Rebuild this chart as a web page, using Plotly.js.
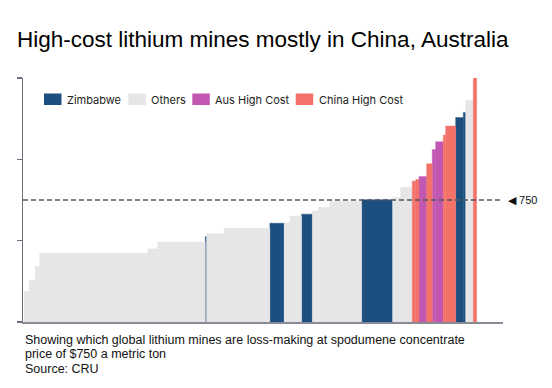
<!DOCTYPE html>
<html>
<head>
<meta charset="utf-8">
<script src="https://cdn.plot.ly/plotly-3.0.1.min.js"></script>
<style>html,body{margin:0;padding:0;background:#fff;}#chart{width:552px;height:388px;}</style>
</head>
<body>
<div id="chart"></div>
<script>
// Mine category, capacity width and cost (US$/t) in supply-curve order
const mineGroup = ['Others','Others','Others','Others','Others','Others','Zimbabwe','Others','Others','Zimbabwe',
  'Others','Others','Zimbabwe','Others','Others','Others','Zimbabwe','Others','Others','China High Cost',
  'China High Cost','Aus High Cost','China High Cost','Aus High Cost','Aus High Cost','China High Cost','China High Cost','Zimbabwe','Zimbabwe','Others',
  'China High Cost'];
const mineWidth = [5, 6, 4.5, 108, 10, 47.5, 1.3, 17.7, 45.5, 14.3,
  5.7, 11.7, 10.8, 5.8, 11.7, 31.7, 31, 8, 11.6, 3.4,
  3.3, 7.7, 5.6, 3.4, 7.6, 2.4, 10, 7.6, 2.4, 7.6,
  3.4];
const mineCost = [188, 254, 343, 423, 450, 492, 525, 544, 578, 607,
  610, 652, 663, 684, 705, 743, 752, 767, 829, 866,
  876, 895, 973, 1060, 1108, 1149, 1205, 1257, 1288, 1362,
  1560];
const groups = ['Zimbabwe', 'Others', 'Aus High Cost', 'China High Cost'];
const groupColors = ['#1c4f7f', '#e6e6e6', '#c157b0', '#f2726a'];
const priceLine = 750;
const yTicks = [0, 500, 1000, 1500];
const captionLines = ['Showing which global lithium mines are loss-making at spodumene concentrate',
  'price of $750 a metric ton', 'Source: CRU'];

// layout helpers (pixel -> paper) for the plot area
const L = 23, T = 78, PW = 480, PH = 244;
const px = v => (v - L) / PW;
const py = v => (T + PH - v) / PH;

const centers = [];
let acc = 0;
for (let i = 0; i < mineWidth.length; i++) { centers.push(acc + mineWidth[i] / 2); acc += mineWidth[i]; }

const traces = groups.map((g, gi) => {
  const xs = [], ys = [], ws = [];
  mineGroup.forEach((c, i) => { if (c === g) { xs.push(centers[i]); ys.push(mineCost[i]); ws.push(mineWidth[i]); } });
  return { type: 'bar', name: g, x: xs, y: ys, width: ws, showlegend: false,
    marker: { color: groupColors[gi], line: { width: 0.4, color: groupColors[gi] } }, hoverinfo: 'none' };
});

const annotations = captionLines.map((t, i) => ({
  text: t, xref: 'paper', yref: 'paper', x: -0.001, y: py(340 + i * 14.3),
  xanchor: 'left', yanchor: 'middle', showarrow: false,
  font: { family: 'Liberation Sans, Arial, sans-serif', size: 12.5, color: '#111' }
}));
annotations.push({
  text: '◀ ' + priceLine, xref: 'paper', yref: 'y', x: 1.006, y: priceLine, xanchor: 'left', yanchor: 'middle',
  showarrow: false, font: { family: 'Liberation Sans, Arial, sans-serif', size: 11, color: '#111' }
});

// legend (swatch + label) laid out as in the original graphic
const legendSwatchX = [44, 128.3, 192.3, 295.7];
const legendTextX = [65, 149, 213.3, 316.7];
const shapes = [{ type: 'line', xref: 'paper', x0: 0, x1: 1, yref: 'y', y0: priceLine, y1: priceLine,
  line: { color: '#555560', width: 1.5, dash: '5px,3px' }, layer: 'above' }];
groups.forEach((g, gi) => {
  shapes.push({ type: 'rect', xref: 'paper', yref: 'paper', x0: px(legendSwatchX[gi]), x1: px(legendSwatchX[gi] + 17.5),
    y0: py(105), y1: py(93.5), fillcolor: groupColors[gi], line: { width: 0 }, layer: 'above' });
  annotations.push({ text: g, xref: 'paper', yref: 'paper', x: px(legendTextX[gi]), y: py(99.5),
    xanchor: 'left', yanchor: 'middle', showarrow: false,
    font: { family: 'Inter, Open Sans, sans-serif', size: 11, color: '#222' } });
});

const layout = {
  width: 552, height: 388,
  margin: { l: L, r: 552 - L - PW, t: T, b: 388 - T - PH, pad: 0 },
  paper_bgcolor: '#fff', plot_bgcolor: '#fff',
  barmode: 'overlay',
  showlegend: false,
  title: { text: 'High-cost lithium mines mostly in China, Australia', xref: 'container', yref: 'container',
    x: 17 / 552, xanchor: 'left', y: 1 - 39 / 388, yanchor: 'middle',
    font: { family: 'Liberation Sans, Arial, sans-serif', size: 22.5, color: '#000' } },
  xaxis: { range: [-1.2, 478.5], showline: true, linecolor: '#8a8a96', linewidth: 2, showticklabels: false,
    ticks: '', showgrid: false, zeroline: false, fixedrange: true },
  yaxis: { range: [0, 1500], tickvals: yTicks, showticklabels: false, ticks: 'outside', ticklen: 5, tickwidth: 1.2,
    tickcolor: '#6e6e7c', showline: true, linecolor: '#6e6e7c', linewidth: 1.5, showgrid: false, zeroline: false, fixedrange: true },
  shapes: shapes,
  annotations: annotations
};

Plotly.newPlot('chart', traces, layout, { staticPlot: true, displayModeBar: false });
</script>
</body>
</html>
